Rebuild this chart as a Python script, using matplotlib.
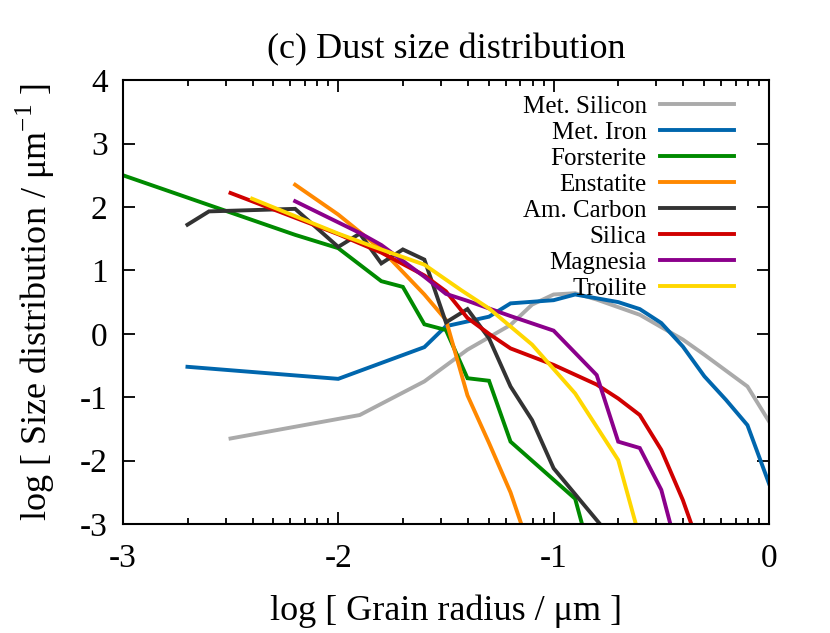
import numpy as np
import matplotlib
matplotlib.use("Agg")
import matplotlib.pyplot as plt
from matplotlib.ticker import FixedLocator

plt.rcParams['font.family'] = ['Liberation Serif', 'DejaVu Serif']
plt.rcParams['mathtext.fontset'] = 'custom'
plt.rcParams['mathtext.rm'] = 'Liberation Serif'

# log grain radius (x) and log size distribution (y) for each species
sil_x = [-2.5, -1.9, -1.6, -1.4, -1.2, -1.1, -1.0, -0.9, -0.8, -0.6, -0.4, -0.3, -0.1, 0.0]
sil_y = [-1.65, -1.28, -0.75, -0.25, 0.14, 0.46, 0.62, 0.64, 0.54, 0.30, -0.09, -0.33, -0.83, -1.38]

iron_x = [-2.7, -2.0, -1.6, -1.5, -1.3, -1.2, -1.0, -0.9, -0.7, -0.6, -0.5, -0.4, -0.3, -0.2, -0.1, 0.0]
iron_y = [-0.52, -0.71, -0.21, 0.12, 0.27, 0.48, 0.53, 0.62, 0.50, 0.39, 0.17, -0.20, -0.67, -1.04, -1.44, -2.36]

fors_x = [-3.0, -2.2, -2.0, -1.8, -1.7, -1.6, -1.5, -1.4, -1.3, -1.2, -0.9, -0.86]
fors_y = [2.50, 1.56, 1.35, 0.83, 0.74, 0.15, 0.06, -0.70, -0.74, -1.70, -2.60, -3.1]

enst_x = [-2.2, -2.0, -1.8, -1.6, -1.5, -1.4, -1.3, -1.2, -1.14]
enst_y = [2.35, 1.88, 1.33, 0.62, 0.22, -0.97, -1.72, -2.50, -3.1]

carb_x = [-2.7, -2.6, -2.2, -2.0, -1.9, -1.8, -1.7, -1.6, -1.5, -1.4, -1.3, -1.2, -1.1, -1.0, -0.76]
carb_y = [1.72, 1.93, 1.97, 1.37, 1.58, 1.11, 1.33, 1.17, 0.18, 0.39, -0.07, -0.83, -1.36, -2.12, -3.1]

silica_x = [-2.5, -2.0, -1.8, -1.6, -1.5, -1.4, -1.3, -1.2, -1.0, -0.8, -0.7, -0.6, -0.5, -0.4, -0.35]
silica_y = [2.22, 1.57, 1.28, 0.92, 0.67, 0.25, 0.0, -0.23, -0.49, -0.80, -1.02, -1.28, -1.83, -2.62, -3.1]

magn_x = [-2.2, -1.9, -1.8, -1.6, -1.5, -1.4, -1.3, -1.2, -1.0, -0.8, -0.7, -0.6, -0.5, -0.45]
magn_y = [2.09, 1.59, 1.40, 0.90, 0.63, 0.52, 0.40, 0.28, 0.05, -0.65, -1.70, -1.80, -2.46, -3.1]

troi_x = [-2.4, -2.0, -1.85, -1.6, -1.43, -1.3, -1.1, -0.9, -0.7, -0.61]
troi_y = [2.13, 1.58, 1.39, 1.09, 0.69, 0.40, -0.17, -0.94, -1.99, -3.1]

labels = ["Met. Silicon", "Met. Iron", "Forsterite", "Enstatite",
          "Am. Carbon", "Silica", "Magnesia", "Troilite"]
colors = ["#aaaaaa", "#0066ad", "#008a00", "#ff8800",
          "#333333", "#d00000", "#8b008b", "#ffd700"]
series = [(sil_x, sil_y), (iron_x, iron_y), (fors_x, fors_y), (enst_x, enst_y),
          (carb_x, carb_y), (silica_x, silica_y), (magn_x, magn_y), (troi_x, troi_y)]

fig = plt.figure(figsize=(8.3, 6.33), dpi=100)
ax = fig.add_axes([0.148, 0.172, 0.7785, 0.7015])

for (x, y), lab, c in zip(series, labels, colors):
    ax.plot(x, y, color=c, lw=2.8, label=lab, solid_joinstyle='miter')

ax.set_xlim(-3, 0)
ax.set_ylim(-3, 4)
ax.set_xticks([-3, -2, -1, 0])
ax.set_xticklabels(["-3", "-2", "-1", "0"])
ax.set_yticks(range(-3, 5))
ax.set_yticklabels([str(v) for v in range(-3, 5)])
minor = [d + np.log10(k) for d in (-3, -2, -1) for k in range(2, 10)]
ax.xaxis.set_minor_locator(FixedLocator(minor))

ax.tick_params(which='both', direction='in', top=True, right=True,
               labelsize=24, width=1.3, pad=11)
ax.tick_params(axis='x', pad=14)
ax.tick_params(which='major', length=8.5)
ax.tick_params(which='minor', length=4.3)
for s in ax.spines.values():
    s.set_linewidth(1.5)

ax.set_title("(c) Dust size distribution", fontsize=26, pad=16)
ax.set_xlabel("log [ Grain radius / μm ]", fontsize=26, labelpad=15)
ax.set_ylabel("log [ Size distribution / μm$^{\\mathrm{-1}}$ ]", fontsize=26, labelpad=16)

leg = ax.legend(loc='upper right', bbox_to_anchor=(0.946, 0.966), frameon=False,
                markerfirst=False, fontsize=18, handlelength=2.95,
                handletextpad=0.55, labelspacing=0.14, borderpad=0, borderaxespad=0)

fig.savefig("out.png", dpi=100)
